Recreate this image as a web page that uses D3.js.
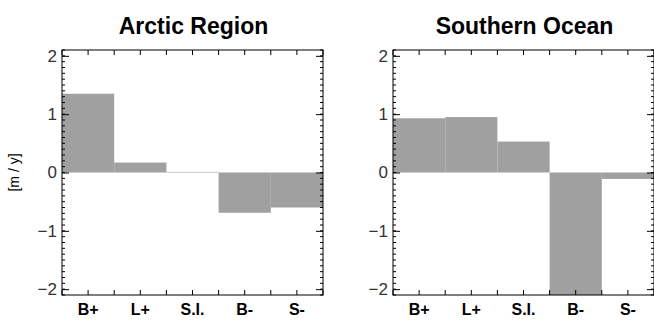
<!DOCTYPE html>
<html>
<head>
<meta charset="utf-8">
<script src="https://cdn.jsdelivr.net/npm/d3@7"></script>
<style>
  body { margin: 0; background: #fff; }
  svg { display: block; font-family: "Liberation Sans", Arial, sans-serif; }
</style>
</head>
<body>
<div id="chart"></div>
<script>
// categories and values
const categories = ["B+", "L+", "S.I.", "B-", "S-"];
const panelTitles = ["Arctic Region", "Southern Ocean"];
const arcticValues = [1.35, 0.17, 0.01, -0.69, -0.60];
const southernValues = [0.93, 0.95, 0.53, -2.3, -0.11];
const yMajorTicks = [-2, -1, 0, 1, 2];
const yLabel = "[m / y]";

const width = 654, height = 322;
const barColor = "#a0a0a0";

const svg = d3.select("#chart")
  .append("svg")
  .attr("width", width)
  .attr("height", height);

const y = d3.scaleLinear().domain([-2.1, 2.1]).range([295, 50]);
const minorTicks = d3.range(-21, 22).map(d => d / 10);

const panels = [
  { title: panelTitles[0], values: arcticValues, left: 62 },
  { title: panelTitles[1], values: southernValues, left: 393 }
];

panels.forEach((p, pi) => {
  const x = d3.scaleBand().domain(categories).range([p.left, p.left + 261]);
  const x0 = x.range()[0], x1 = x.range()[1];
  const g = svg.append("g");

  const clipId = "clip" + pi;
  svg.append("clipPath").attr("id", clipId)
    .append("rect")
    .attr("x", x0).attr("y", y.range()[1])
    .attr("width", x1 - x0).attr("height", y.range()[0] - y.range()[1]);

  // bars
  g.append("g")
    .attr("clip-path", `url(#${clipId})`)
    .selectAll("rect")
    .data(p.values)
    .join("rect")
    .attr("x", (d, i) => x(categories[i]))
    .attr("width", x.bandwidth())
    .attr("y", d => y(Math.max(0, d)))
    .attr("height", d => Math.abs(y(d) - y(0)))
    .attr("fill", barColor);

  // half-step ticks on x (bar centres and bar edges)
  const xt = d3.range(0, 11).map(i => x0 + i * x.bandwidth() / 2);

  // bottom axis with category labels
  const bottom = g.append("g").attr("transform", `translate(0,${y.range()[0]})`)
    .call(d3.axisBottom(x).tickSize(0).tickPadding(9));
  bottom.select(".domain").remove();
  bottom.selectAll("text")
    .attr("font-size", 16).attr("font-weight", "bold").attr("fill", "#000")
    .attr("font-family", "Liberation Sans, Arial, sans-serif");

  g.selectAll(".xtb").data(xt).join("line")
    .attr("x1", d => d).attr("x2", d => d)
    .attr("y1", y.range()[0]).attr("y2", y.range()[0] - 5)
    .attr("stroke", "#000");
  g.selectAll(".xtt").data(xt).join("line")
    .attr("x1", d => d).attr("x2", d => d)
    .attr("y1", y.range()[1]).attr("y2", y.range()[1] + 5)
    .attr("stroke", "#000");

  // left axis: major ticks + labels
  const left = g.append("g").attr("transform", `translate(${x0},0)`)
    .call(d3.axisLeft(y).tickValues(yMajorTicks).tickSize(-7).tickPadding(5)
      .tickFormat(d => d < 0 ? "\u2212" + Math.abs(d) : d));
  left.select(".domain").remove();
  left.selectAll("text").attr("font-size", 17).attr("fill", "#333")
    .attr("font-family", "Liberation Sans, Arial, sans-serif");

  // right axis: major ticks only
  g.append("g").attr("transform", `translate(${x1},0)`)
    .call(d3.axisRight(y).tickValues(yMajorTicks).tickSize(-7).tickFormat(""))
    .select(".domain").remove();

  // minor ticks both sides
  g.selectAll(".ml").data(minorTicks).join("line")
    .attr("x1", x0).attr("x2", x0 + 3)
    .attr("y1", d => y(d)).attr("y2", d => y(d))
    .attr("stroke", "#000");
  g.selectAll(".mr").data(minorTicks).join("line")
    .attr("x1", x1).attr("x2", x1 - 3)
    .attr("y1", d => y(d)).attr("y2", d => y(d))
    .attr("stroke", "#000");

  // frame
  g.append("rect")
    .attr("x", x0).attr("y", y.range()[1])
    .attr("width", x1 - x0).attr("height", y.range()[0] - y.range()[1])
    .attr("fill", "none").attr("stroke", "#000").attr("stroke-width", 1);

  // title
  g.append("text")
    .attr("x", (x0 + x1) / 2 + 1)
    .attr("y", 34)
    .attr("text-anchor", "middle")
    .attr("font-size", 23)
    .attr("font-weight", "bold")
    .text(p.title);
});

// y axis title
svg.append("text")
  .attr("transform", `translate(19,${y(0)}) rotate(-90)`)
  .attr("text-anchor", "middle")
  .attr("font-size", 14)
  .text(yLabel);
</script>
</body>
</html>
